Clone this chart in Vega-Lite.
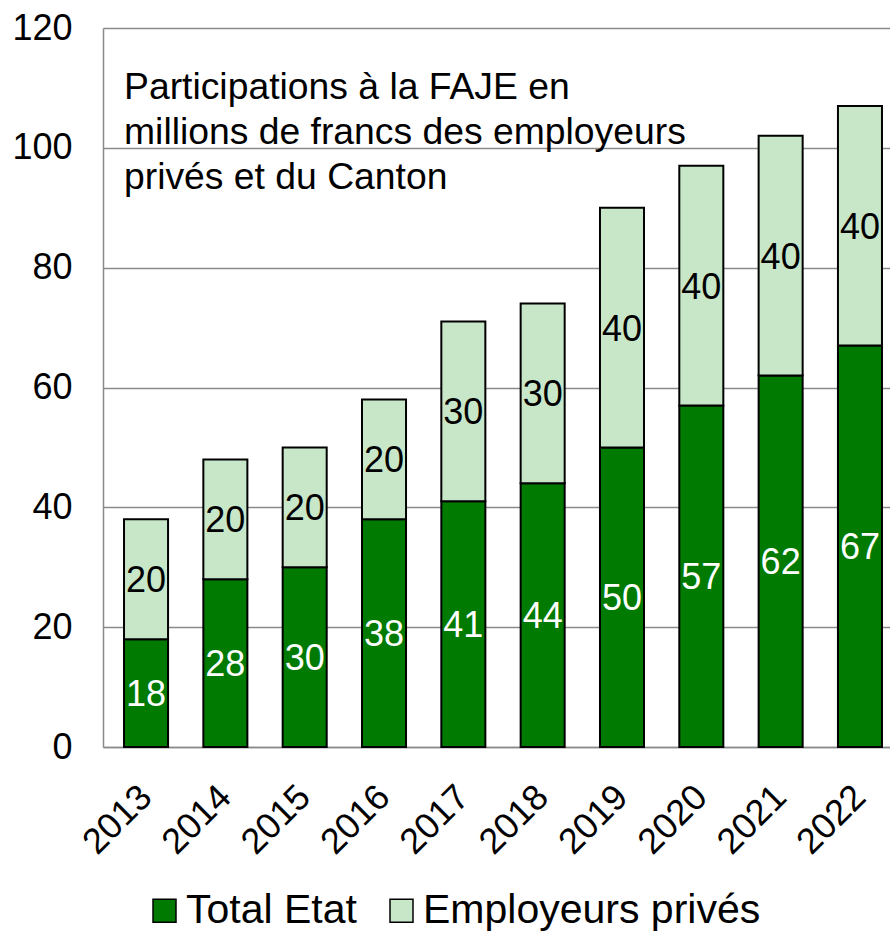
{
  "$schema": "https://vega.github.io/schema/vega-lite/v6.json",
  "width": 800,
  "height": 719,
  "autosize": {"type": "none"},
  "padding": {"left": 103, "top": 28, "right": 0, "bottom": 190},
  "background": "white",
  "config": {
    "font": "Liberation Sans",
    "view": {"stroke": null},
    "axis": {"labelColor": "black", "domainColor": "#8a8a8a", "domainWidth": 1.5, "gridColor": "#8a8a8a", "gridWidth": 1.3, "ticks": false, "title": null, "labelFont": "Liberation Sans"},
    "legend": {"labelFont": "Liberation Sans"}
  },
  "data": {
    "values": [
      {"year": "2013", "series": "Total Etat", "value": 18},
      {"year": "2013", "series": "Employeurs privés", "value": 20},
      {"year": "2014", "series": "Total Etat", "value": 28},
      {"year": "2014", "series": "Employeurs privés", "value": 20},
      {"year": "2015", "series": "Total Etat", "value": 30},
      {"year": "2015", "series": "Employeurs privés", "value": 20},
      {"year": "2016", "series": "Total Etat", "value": 38},
      {"year": "2016", "series": "Employeurs privés", "value": 20},
      {"year": "2017", "series": "Total Etat", "value": 41},
      {"year": "2017", "series": "Employeurs privés", "value": 30},
      {"year": "2018", "series": "Total Etat", "value": 44},
      {"year": "2018", "series": "Employeurs privés", "value": 30},
      {"year": "2019", "series": "Total Etat", "value": 50},
      {"year": "2019", "series": "Employeurs privés", "value": 40},
      {"year": "2020", "series": "Total Etat", "value": 57},
      {"year": "2020", "series": "Employeurs privés", "value": 40},
      {"year": "2021", "series": "Total Etat", "value": 62},
      {"year": "2021", "series": "Employeurs privés", "value": 40},
      {"year": "2022", "series": "Total Etat", "value": 67},
      {"year": "2022", "series": "Employeurs privés", "value": 40}
    ]
  },
  "layer": [
    {
      "mark": {"type": "bar", "stroke": "black", "strokeWidth": 2},
      "encoding": {
        "x": {
          "field": "year", "type": "ordinal",
          "scale": {"paddingInner": 0.445, "paddingOuter": 0.265},
          "axis": {"labelAngle": -45, "labelFontSize": 36, "labelPadding": 32, "labelOffset": -12, "grid": false}
        },
        "y": {
          "field": "value", "type": "quantitative", "stack": "zero",
          "scale": {"domain": [0, 120], "nice": false},
          "axis": {"values": [0, 20, 40, 60, 80, 100, 120], "labelFontSize": 36, "labelPadding": 31, "grid": true}
        },
        "color": {
          "field": "series", "type": "nominal",
          "scale": {"domain": ["Total Etat", "Employeurs privés"], "range": ["#007A00", "#C8E6C8"]},
          "legend": {
            "orient": "none", "legendX": 41, "legendY": 862, "direction": "horizontal", "title": null,
            "labelFontSize": 41, "labelLimit": 500, "symbolType": "square", "symbolSize": 529,
            "symbolStrokeColor": "black", "symbolStrokeWidth": 1.5, "labelOffset": 1, "columnPadding": 24, "symbolOpacity": 1
          }
        },
        "order": {"field": "series", "sort": "descending"}
      }
    },
    {
      "transform": [
        {"stack": "value", "groupby": ["year"], "sort": [{"field": "series", "order": "descending"}], "as": ["v0", "v1"]},
        {"fold": ["v0", "v1"], "as": ["edge", "pos"]},
        {"aggregate": [{"op": "mean", "field": "pos", "as": "mid"}], "groupby": ["year", "series", "value"]}
      ],
      "mark": {"type": "text", "fontSize": 36, "baseline": "middle", "align": "center", "dy": 2},
      "encoding": {
        "x": {"field": "year", "type": "ordinal"},
        "y": {"field": "mid", "type": "quantitative", "stack": null},
        "text": {"field": "value", "type": "quantitative"},
        "color": {"condition": {"test": "datum.series === 'Total Etat'", "value": "white"}, "value": "black"}
      }
    },
    {
      "data": {"values": [{"note": "Participations à la FAJE en\nmillions de francs des employeurs\nprivés et du Canton"}]},
      "mark": {"type": "text", "align": "left", "baseline": "alphabetic", "fontSize": 37.3, "lineHeight": 45, "lineBreak": "\n", "color": "black"},
      "encoding": {
        "x": {"datum": "2013", "type": "ordinal", "bandPosition": 0},
        "y": {"datum": 108.2, "type": "quantitative"},
        "text": {"field": "note", "type": "nominal"}
      }
    }
  ]
}
